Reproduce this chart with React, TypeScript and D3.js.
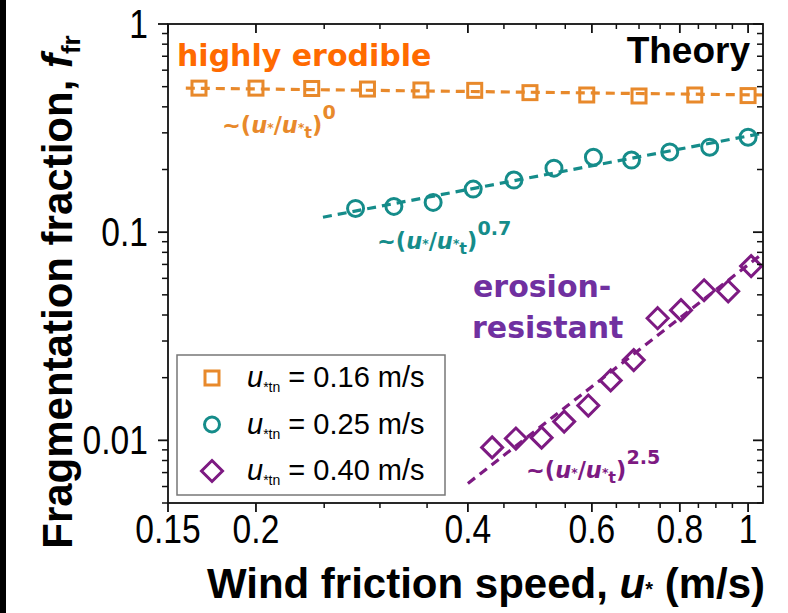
import React from "react";
import * as d3 from "d3";

// Fragmentation fraction vs. wind friction speed (log–log)
const W = 788;
const H = 613;

// Series: threshold u*tn = 0.16 m/s
const orangeU = [0.166, 0.2, 0.24, 0.288, 0.343, 0.409, 0.49, 0.59, 0.7, 0.84, 1.0];
const orangeF = [0.492, 0.492, 0.49, 0.487, 0.482, 0.48, 0.468, 0.456, 0.451, 0.456, 0.453];
// Series: threshold u*tn = 0.25 m/s
const tealU = [0.277, 0.314, 0.357, 0.407, 0.465, 0.53, 0.603, 0.683, 0.774, 0.882, 1.0];
const tealF = [0.13, 0.133, 0.139, 0.161, 0.178, 0.203, 0.229, 0.222, 0.243, 0.256, 0.286];
// Series: threshold u*tn = 0.40 m/s
const purpleU = [0.433, 0.468, 0.509, 0.548, 0.593, 0.638, 0.688, 0.744, 0.803, 0.866, 0.937, 1.01];
const purpleF = [0.00925, 0.0102, 0.0103, 0.0123, 0.0147, 0.0194, 0.0243, 0.0386, 0.0422, 0.0526, 0.052, 0.0687];

// Power-law guide lines, [u*, f] end points
const orangeFit = [[0.159, 0.492], [1.05, 0.456]];
const tealFit = [[0.249, 0.118], [1.05, 0.299]];
const purpleFit = [[0.4, 0.00621], [1.05, 0.0793]];

// Axis ticks
const xMajor = [0.15, 0.2, 0.4, 0.6, 0.8, 1];
const xMajorLabels = ["0.15", "0.2", "0.4", "0.6", "0.8", "1"];
const xMinor = [0.25, 0.3, 0.35, 0.45, 0.5, 0.55, 0.65, 0.7, 0.75, 0.85, 0.9, 0.95];
const yMajor = [1, 0.1, 0.01];
const yMajorLabels = ["1", "0.1", "0.01"];
const yMinor = [
  0.2, 0.3, 0.4, 0.5, 0.6, 0.7, 0.8, 0.9,
  0.02, 0.03, 0.04, 0.05, 0.06, 0.07, 0.08, 0.09,
  0.005, 0.006, 0.007, 0.008, 0.009,
];

const legendLabels = ["0.16", "0.25", "0.40"];

const ORANGE = "#E8892B";
const ORANGE_TXT = "#FF6A00";
const TEAL = "#158C8A";
const PURPLE = "#7D1A82";
const PURPLE_TXT = "#7030A0";
const AXIS = "#111";

const plot = { left: 168, right: 763, top: 24, bottom: 503 };

const x = d3.scaleLog().domain([0.15, 1.05]).range([plot.left, plot.right]);
const y = d3.scaleLog().domain([0.005, 1]).range([plot.bottom, plot.top]);

const fitLine = d3
  .line<number[]>()
  .x((d) => x(d[0]))
  .y((d) => y(d[1]));

const SANS = "'Liberation Sans', Arial, sans-serif";
const WIDE = "'DejaVu Sans', Verdana, sans-serif";

function Square({ cx, cy, color, s = 14 }: any) {
  return (
    <rect x={cx - s / 2} y={cy - s / 2} width={s} height={s} fill="none" stroke={color} strokeWidth={3} />
  );
}
function Circle({ cx, cy, color, r = 8 }: any) {
  return <circle cx={cx} cy={cy} r={r} fill="none" stroke={color} strokeWidth={3} />;
}
function Diamond({ cx, cy, color, r = 10.5 }: any) {
  const p = `M${cx},${cy - r}L${cx + r},${cy}L${cx},${cy + r}L${cx - r},${cy}Z`;
  return <path d={p} fill="none" stroke={color} strokeWidth={3} strokeLinejoin="miter" />;
}

// "~(u*/u*t)^n" label
function Scaling({ x0, y0, exp, color }: any) {
  const fs = 22.5;
  return (
    <text x={x0} y={y0} fill={color} fontFamily={WIDE} fontWeight="bold" fontSize={fs}>
      <tspan>~(</tspan>
      <tspan fontStyle="italic">u</tspan>
      <tspan fontSize={fs * 0.55} dy={-1}>*</tspan>
      <tspan dy={1}>/</tspan>
      <tspan fontStyle="italic">u</tspan>
      <tspan fontSize={fs * 0.55} dy={-1}>*</tspan>
      <tspan fontSize={fs * 0.72} dy={6}>t</tspan>
      <tspan dy={-5}>)</tspan>
      <tspan fontSize={fs * 0.85} dy={-14}>{exp}</tspan>
    </text>
  );
}

function LegendRow({ row, label, children }: any) {
  const by = 387 + row * 46.5;
  return (
    <g>
      {children(212, by - 9)}
      <text x={247} y={by} fontFamily={SANS} fontSize={29} fill="#000">
        <tspan fontStyle="italic">u</tspan>
        <tspan fontSize={14} dy={5}>*tn</tspan>
        <tspan dy={-5}>{` = ${label} m/s`}</tspan>
      </text>
    </g>
  );
}

export default function App() {
  return (
    <div style={{ position: "absolute", left: 0, top: 0 }}>
      <svg width={W} height={H} viewBox={`0 0 ${W} ${H}`} style={{ display: "block", background: "#fff" }}>
        <rect x={0} y={0} width={W} height={H} fill="#fff" />
        {/* side rule */}
        <rect x={0} y={0} width={6} height={H} fill="#000" />

        {/* fit lines */}
        <path d={fitLine(orangeFit as any) || ""} fill="none" stroke={ORANGE} strokeWidth={3.2} strokeDasharray="9 6" />
        <path d={fitLine(tealFit as any) || ""} fill="none" stroke={TEAL} strokeWidth={3.2} strokeDasharray="9 6" />
        <path d={fitLine(purpleFit as any) || ""} fill="none" stroke={PURPLE} strokeWidth={3.2} strokeDasharray="9 6" />

        {/* markers */}
        {orangeU.map((u, i) => (
          <Square key={"o" + i} cx={x(u)} cy={y(orangeF[i])} color={ORANGE} />
        ))}
        {tealU.map((u, i) => (
          <Circle key={"t" + i} cx={x(u)} cy={y(tealF[i])} color={TEAL} />
        ))}
        {purpleU.map((u, i) => (
          <Diamond key={"p" + i} cx={x(u)} cy={y(purpleF[i])} color={PURPLE} />
        ))}

        {/* frame */}
        <rect
          x={plot.left}
          y={plot.top}
          width={plot.right - plot.left}
          height={plot.bottom - plot.top}
          fill="none"
          stroke={AXIS}
          strokeWidth={1.8}
        />

        {/* x ticks */}
        {xMajor.map((v) => (
          <g key={"xm" + v}>
            <line x1={x(v)} x2={x(v)} y1={plot.bottom} y2={plot.bottom + 9} stroke={AXIS} strokeWidth={1.8} />
            <line x1={x(v)} x2={x(v)} y1={plot.top} y2={plot.top + 9} stroke={AXIS} strokeWidth={1.8} />
          </g>
        ))}
        {xMinor.map((v) => (
          <g key={"xn" + v}>
            <line x1={x(v)} x2={x(v)} y1={plot.bottom} y2={plot.bottom + 5} stroke={AXIS} strokeWidth={1.5} />
            <line x1={x(v)} x2={x(v)} y1={plot.top} y2={plot.top + 5} stroke={AXIS} strokeWidth={1.5} />
          </g>
        ))}
        {xMajor.map((v, i) => (
          <g key={"xl" + v} transform={`translate(${x(v)},${543}) scale(0.82,1)`}>
            <text textAnchor="middle" fontFamily={SANS} fontSize={41} fill="#000">
              {xMajorLabels[i]}
            </text>
          </g>
        ))}

        {/* y ticks */}
        {yMajor.map((v) => (
          <g key={"ym" + v}>
            <line x1={plot.left - 10} x2={plot.left} y1={y(v)} y2={y(v)} stroke={AXIS} strokeWidth={1.8} />
            <line x1={plot.right - 10} x2={plot.right} y1={y(v)} y2={y(v)} stroke={AXIS} strokeWidth={1.8} />
          </g>
        ))}
        {yMinor.map((v) => (
          <g key={"yn" + v}>
            <line x1={plot.left - 6} x2={plot.left} y1={y(v)} y2={y(v)} stroke={AXIS} strokeWidth={1.5} />
            <line x1={plot.right - 6} x2={plot.right} y1={y(v)} y2={y(v)} stroke={AXIS} strokeWidth={1.5} />
          </g>
        ))}
        {yMajor.map((v, i) => (
          <g key={"yl" + v} transform={`translate(${148},${y(v) + 14}) scale(0.82,1)`}>
            <text textAnchor="end" fontFamily={SANS} fontSize={41} fill="#000">
              {yMajorLabels[i]}
            </text>
          </g>
        ))}

        {/* axis titles */}
        <text x={486} y={598} textAnchor="middle" fontFamily={SANS} fontWeight="bold" fontSize={42} fill="#000">
          <tspan>Wind friction speed, </tspan>
          <tspan fontStyle="italic">u</tspan>
          <tspan fontSize={20} dy={-2}>*</tspan>
          <tspan dy={2}> (m/s)</tspan>
        </text>
        <text
          transform={`translate(72,292) rotate(-90)`}
          textAnchor="middle"
          fontFamily={SANS}
          fontWeight="bold"
          fontSize={42}
          fill="#000"
        >
          <tspan>Fragmentation fraction, </tspan>
          <tspan fontStyle="italic">f</tspan>
          <tspan fontSize={26} dy={8}>fr</tspan>
        </text>

        {/* annotations */}
        <text x={177} y={66} fontFamily={WIDE} fontWeight="bold" fontSize={30} fill={ORANGE_TXT}>
          highly erodible
        </text>
        <text x={750} y={63} textAnchor="end" fontFamily={SANS} fontWeight="bold" fontSize={37} fill="#000">
          Theory
        </text>
        <text x={473} y={297} fontFamily={WIDE} fontWeight="bold" fontSize={30} fill={PURPLE_TXT}>
          erosion-
        </text>
        <text x={472} y={338} fontFamily={WIDE} fontWeight="bold" fontSize={30} fill={PURPLE_TXT}>
          resistant
        </text>
        <Scaling x0={222} y0={133} exp="0" color={ORANGE} />
        <Scaling x0={377} y0={249} exp="0.7" color={TEAL} />
        <Scaling x0={526} y0={478} exp="2.5" color={PURPLE} />

        {/* legend */}
        <rect x={177} y={355} width={268} height={140} fill="#fff" stroke="#777" strokeWidth={1.5} />
        <LegendRow row={0} label={legendLabels[0]}>
          {(cx: number, cy: number) => <Square cx={cx} cy={cy} color={ORANGE} s={14} />}
        </LegendRow>
        <LegendRow row={1} label={legendLabels[1]}>
          {(cx: number, cy: number) => <Circle cx={cx} cy={cy} color={TEAL} r={7.5} />}
        </LegendRow>
        <LegendRow row={2} label={legendLabels[2]}>
          {(cx: number, cy: number) => <Diamond cx={cx} cy={cy} color={PURPLE} r={10.5} />}
        </LegendRow>
      </svg>
    </div>
  );
}
